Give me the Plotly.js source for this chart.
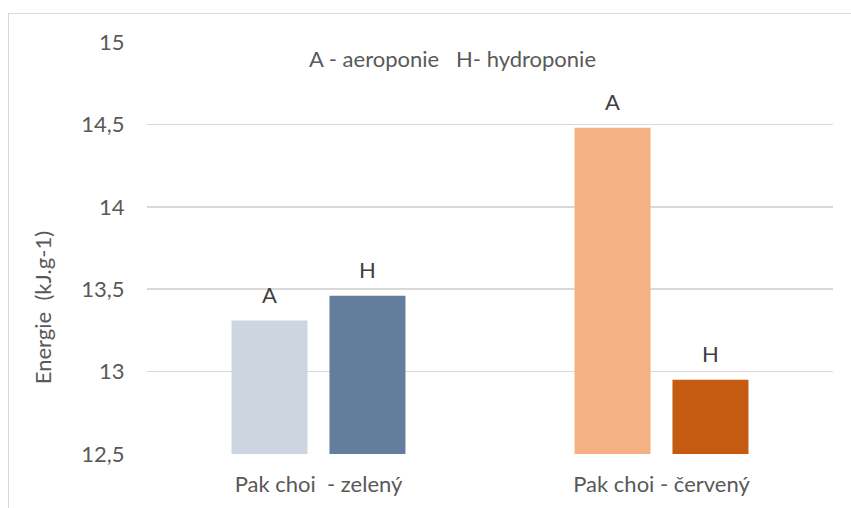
<!DOCTYPE html>
<html>
<head>
<meta charset="utf-8">
<script src="https://cdn.plot.ly/plotly-3.0.1.min.js"></script>
<style>
html,body{margin:0;padding:0;background:#fff;}
#wrap{position:relative;width:851px;height:508px;overflow:hidden;}
#frame{position:absolute;left:8px;top:13px;width:900px;height:600px;border-left:1.5px solid #d9d9d9;border-top:1.5px solid #d9d9d9;pointer-events:none;}
#chart{position:absolute;left:0;top:0;width:851px;height:508px;}
</style>
</head>
<body>
<div id="wrap"><div id="chart"></div><div id="frame"></div></div>
<script>
var categories = ["Pak choi \u00a0- zelený", "Pak choi - červený"];
var valuesA = [13.31, 14.48];
var valuesH = [13.46, 12.95];
var colorsA = ["#cdd5e0", "#f4b183"];
var colorsH = ["#637d9d", "#c55a11"];
var labelA = "A";
var labelH = "H";
var legendNote = "A - aeroponie \u00a0 H- hydroponie";
var yTitle = "Energie \u00a0(kJ.g-1)";
var yTickVals = [12.5, 13, 13.5, 14, 14.5, 15];
var yTickText = ["12,5", "13", "13,5", "14", "14,5", "15"];

var FONT = "Lato, 'Open Sans', sans-serif";
var TXT = "#595959";
var FS = 22;

var traces = [
  {type: "bar", name: "A", x: categories, y: valuesA, marker: {color: colorsA}, hoverinfo: "none"},
  {type: "bar", name: "H", x: categories, y: valuesH, marker: {color: colorsH}, hoverinfo: "none"}
];

var annotations = [];
categories.forEach(function (c, i) {
  annotations.push({x: c, y: valuesA[i], xref: "x", yref: "y", text: labelA, showarrow: false,
    xshift: -49, yshift: 26, yanchor: "middle", font: {family: FONT, size: FS, color: "#404040"}});
  annotations.push({x: c, y: valuesH[i], xref: "x", yref: "y", text: labelH, showarrow: false,
    xshift: 49, yshift: 26, yanchor: "middle", font: {family: FONT, size: FS, color: "#404040"}});
});
annotations.push({xref: "paper", yref: "paper", x: 0.446, y: 0.961, text: legendNote, showarrow: false,
  xanchor: "center", yanchor: "middle", font: {family: FONT, size: FS, color: TXT}});
annotations.push({xref: "paper", yref: "paper", x: -0.153, y: 0.354, text: yTitle, showarrow: false,
  textangle: -90, xanchor: "center", yanchor: "middle", font: {family: FONT, size: FS, color: TXT}});

var layout = {
  width: 851, height: 508,
  margin: {l: 147, r: 18, t: 42, b: 54, pad: 0},
  paper_bgcolor: "rgba(0,0,0,0)", plot_bgcolor: "#fff",
  showlegend: false,
  barmode: "group", bargap: 0.429, bargroupgap: 0.224,
  font: {family: FONT, size: FS, color: TXT},
  xaxis: {type: "category", showgrid: false, zeroline: false, showline: false,
    ticks: "outside", ticklen: 11, tickcolor: "rgba(0,0,0,0)",
    tickfont: {family: FONT, size: FS, color: TXT}},
  yaxis: {range: [12.5, 15], tickvals: yTickVals, ticktext: yTickText,
    showgrid: true, gridcolor: "#d9d9d9", gridwidth: 1.5, zeroline: false, showline: false,
    ticks: "outside", ticklen: 17, tickcolor: "rgba(0,0,0,0)",
    tickfont: {family: FONT, size: FS, color: TXT}},
  annotations: annotations
};

Plotly.newPlot("chart", traces, layout, {staticPlot: true, displayModeBar: false});
</script>
</body>
</html>
